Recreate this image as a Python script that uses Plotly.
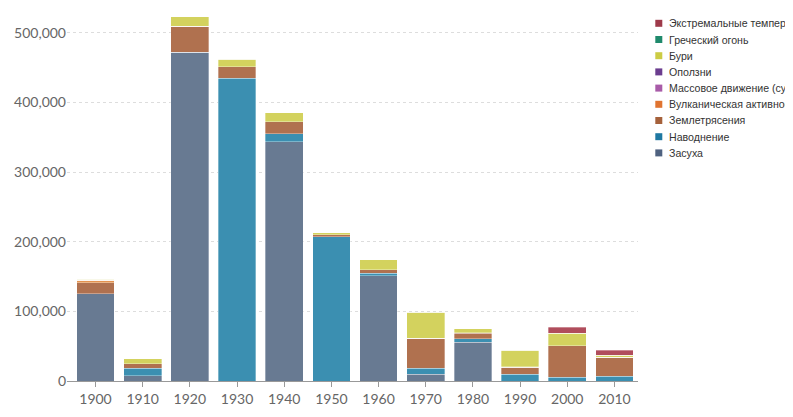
import plotly.graph_objects as go

years = ["1900", "1910", "1920", "1930", "1940", "1950", "1960", "1970", "1980", "1990", "2000", "2010"]

drought = [125000, 7500, 472000, 0, 344000, 0, 151000, 10000, 55600, 0, 0, 0]
flood = [0, 11000, 0, 435000, 11000, 207000, 3800, 8200, 5200, 9500, 5300, 6500]
earthquake = [16200, 6000, 38000, 16600, 17700, 3000, 4800, 43000, 8000, 10200, 45000, 26900]
volcanic = [3900, 500, 0, 0, 0, 0, 0, 0, 300, 0, 0, 800]
mass_movement = [0, 0, 0, 0, 0, 0, 0, 0, 0, 0, 0, 0]
landslides = [0, 0, 0, 0, 0, 0, 0, 0, 0, 800, 0, 0]
storms = [1000, 7000, 13000, 10600, 13000, 2900, 14400, 37400, 5700, 23400, 18200, 2500]
greek_fire = [0, 0, 0, 0, 0, 0, 0, 0, 0, 0, 0, 0]
extreme_temp = [0, 0, 0, 0, 0, 0, 0, 0, 0, 0, 9000, 7200]

series_names = ["Засуха", "Наводнение", "Землетрясения", "Вулканическая активность",
                "Массовое движение (сухое)", "Оползни", "Бури", "Греческий огонь",
                "Экстремальные температуры"]
series_values = [drought, flood, earthquake, volcanic, mass_movement, landslides,
                 storms, greek_fire, extreme_temp]
bar_colors = ["#687a92", "#3b8fb1", "#b0714f", "#e3924f", "#b262ac", "#6c3f93",
              "#d3d25e", "#1f8a6c", "#b04d5c"]
legend_colors = ["#4f6280", "#1f78a2", "#a5613b", "#e07430", "#a85ba8", "#6b3d8f",
                 "#cccc44", "#1f8a6c", "#9e3a4a"]

fig = go.Figure()
for name, vals, col in zip(series_names, series_values, bar_colors):
    fig.add_trace(go.Bar(
        x=years, y=vals, name=name,
        marker=dict(color=col, line=dict(color="rgba(255,255,255,0.55)", width=0.6)),
        showlegend=False,
    ))

# the page body adds an 8px offset; positions below are in figure pixels
OFF = 8
W, H = 793, 417
ml = 67 - OFF
mt = 10 - OFF
plot_right = 638 - OFF
plot_bottom = 381 - OFF
mr = W - plot_right
mb = H - plot_bottom
pw, ph = W - ml - mr, H - mt - mb

def px_to_paper_x(px):
    return (px - OFF - ml) / pw

def px_to_paper_y(py):
    return 1 - (py - OFF - mt) / ph

shapes = []
annotations = []
legend_order = list(range(len(series_names)))[::-1]
for i, idx in enumerate(legend_order):
    cy = 23.3 + i * 16.2
    shapes.append(dict(
        type="rect", xref="paper", yref="paper",
        x0=px_to_paper_x(655.3), x1=px_to_paper_x(662.3),
        y0=px_to_paper_y(cy + 3.5), y1=px_to_paper_y(cy - 3.5),
        fillcolor=legend_colors[idx], line=dict(width=0),
    ))
    annotations.append(dict(
        xref="paper", yref="paper", x=px_to_paper_x(666.5), y=px_to_paper_y(cy),
        xanchor="left", yanchor="middle", text=series_names[idx], showarrow=False,
        font=dict(family="Liberation Sans, Arial, sans-serif", size=10.6, color="#333333"),
    ))

fig.update_layout(
    width=W, height=H,
    barmode="stack", bargap=0.2,
    margin=dict(l=ml, r=mr, t=mt, b=mb, autoexpand=False),
    plot_bgcolor="white", paper_bgcolor="white",
    font=dict(family="Lato, sans-serif", size=14, color="#666666"),
    shapes=shapes, annotations=annotations,
    xaxis=dict(
        type="category", range=[-0.604, 11.5],
        showline=True, linecolor="#999999", linewidth=1,
        ticks="outside", ticklen=5, tickcolor="#999999",
        showgrid=False, tickfont=dict(size=14, color="#666666"),
    ),
    yaxis=dict(
        range=[0, 533000], tickvals=[0, 100000, 200000, 300000, 400000, 500000],
        tickformat=",", showgrid=True, gridcolor="#dddddd", griddash="3px,3px",
        gridwidth=1, zeroline=False, showline=False, ticks="",
        tickfont=dict(size=14, color="#666666"),
    ),
)

fig.write_html("out.html")
